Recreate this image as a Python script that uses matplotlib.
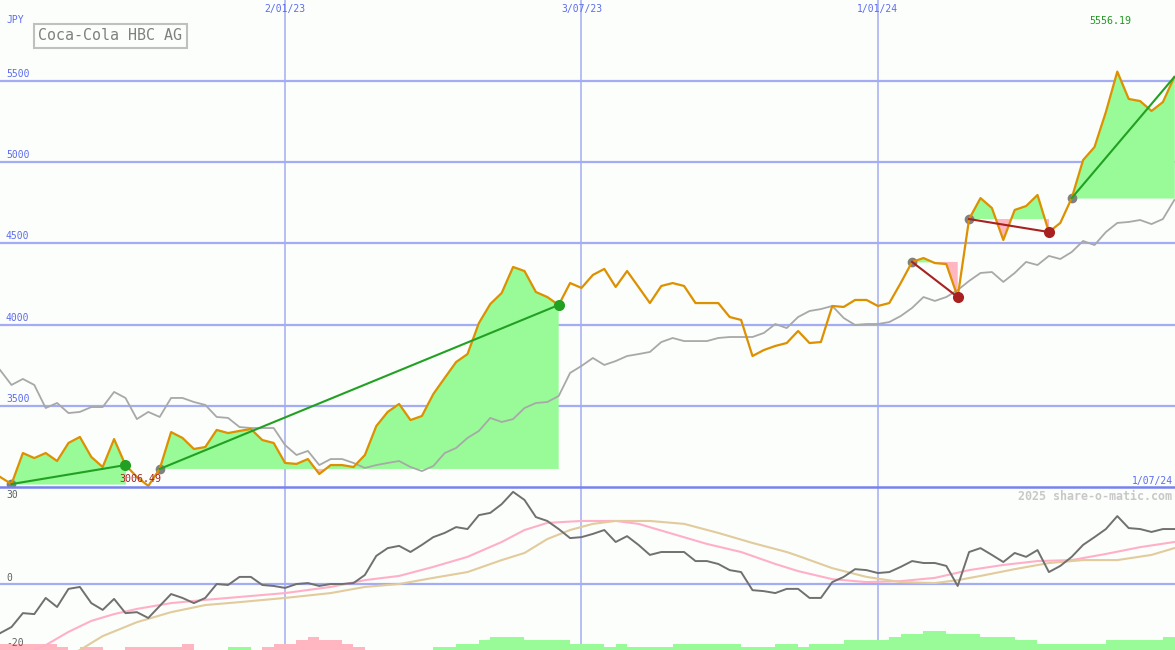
import numpy as np
import pandas as pd
import matplotlib
matplotlib.use('Agg')
import matplotlib.pyplot as plt
import matplotlib.dates as mdates
from matplotlib.lines import Line2D

# weekly closes, JPY
dates = pd.date_range('2022-07-11', periods=104, freq='7D')
price = [3062, 3018, 3209, 3178, 3209, 3160, 3271, 3308, 3185, 3123,
         3295, 3135, 3062, 3006.49, 3111, 3338, 3302, 3234, 3246, 3351,
         3332, 3345, 3357, 3289, 3271, 3148, 3142, 3172, 3080, 3135,
         3135, 3123, 3197, 3375, 3462, 3511, 3412, 3437, 3572, 3671,
         3769, 3818, 4009, 4126, 4194, 4354, 4329, 4200, 4169, 4120,
         4255, 4225, 4305, 4342, 4231, 4329, 4231, 4132, 4237, 4255,
         4237, 4132, 4132, 4132, 4046, 4028, 3806, 3843, 3868, 3886,
         3960, 3886, 3892, 4114, 4108, 4151, 4151, 4114, 4132, 4255,
         4385, 4409, 4378, 4372, 4169, 4649, 4778, 4717, 4520, 4705,
         4729, 4797, 4569, 4625, 4778, 5012, 5092, 5308, 5556.19, 5388,
         5375, 5314, 5369, 5523]
# comparison index (rescaled to price axis)
compare = [3720, 3628, 3665, 3628, 3486, 3517, 3455, 3462, 3492, 3492,
           3585, 3548, 3418, 3462, 3431, 3548, 3548, 3523, 3505, 3431,
           3425, 3369, 3363, 3363, 3363, 3258, 3197, 3222, 3135, 3172,
           3172, 3148, 3117, 3135, 3148, 3160, 3123, 3098, 3129, 3209,
           3240, 3302, 3345, 3425, 3400, 3418, 3486, 3517, 3523, 3560,
           3702, 3745, 3794, 3751, 3775, 3806, 3818, 3831, 3892, 3917,
           3898, 3898, 3898, 3917, 3923, 3923, 3923, 3948, 4003, 3978,
           4046, 4083, 4095, 4114, 4040, 3997, 4003, 4003, 4015, 4052,
           4102, 4169, 4145, 4169, 4212, 4268, 4317, 4323, 4262, 4317,
           4385, 4366, 4422, 4403, 4446, 4514, 4489, 4569, 4625, 4631,
           4643, 4618, 4649, 4766]
# trend segments: start index, end index, direction
seg_start = [1, 14, 80, 85, 94]
seg_end = [11, 49, 84, 92, 103]
seg_up = [True, True, False, False, True]
seg_closed = [True, True, True, True, False]

# lower panel
momentum = [-15.2, -13.3, -9.0, -9.3, -4.3, -7.1, -1.5, -0.9, -5.9, -8.0,
            -4.6, -9.0, -8.7, -10.5, -6.8, -3.1, -4.3, -5.9, -4.3, 0.0,
            -0.3, 2.2, 2.2, -0.3, -0.6, -1.2, 0.0, 0.3, -0.6, 0.0,
            0.0, 0.3, 2.8, 8.7, 11.1, 11.8, 9.9, 12.1, 14.5, 15.8,
            17.6, 17.0, 21.3, 22.0, 24.7, 28.5, 26.0, 20.7, 19.5, 17.0,
            14.2, 14.5, 15.5, 16.7, 13.0, 14.8, 12.1, 9.0, 9.9, 9.9,
            9.9, 7.1, 7.1, 6.2, 4.3, 3.7, -1.9, -2.2, -2.8, -1.5,
            -1.5, -4.3, -4.3, 0.6, 2.2, 4.6, 4.3, 3.4, 3.7, 5.3,
            7.1, 6.5, 6.5, 5.6, -0.6, 9.9, 11.1, 9.0, 6.8, 9.6,
            8.4, 10.5, 3.7, 5.6, 8.4, 12.1, 14.5, 17.0, 21.0, 17.3,
            17.0, 16.1, 17.0, 17.0]
fast_idx = [2, 4, 6, 8, 10, 12, 15, 18, 21, 25, 29, 32, 35, 38, 41, 44, 46, 48,
            51, 54, 56, 59, 62, 65, 68, 70, 73, 76, 79, 82, 85, 88, 91, 94, 97,
            100, 103]
fast_ma = [-22.0, -18.9, -14.8, -11.4, -9.3, -7.7, -5.9, -4.9, -4.0, -2.8, -0.9,
           1.2, 2.5, 5.3, 8.4, 13.0, 16.7, 18.9, 19.5, 19.5, 18.6, 15.5, 12.4,
           9.9, 6.2, 4.0, 1.5, 0.6, 0.9, 1.9, 4.3, 5.9, 7.1, 7.4, 9.3, 11.4, 13.0]
slow_idx = [6, 7, 9, 12, 15, 18, 21, 25, 29, 32, 35, 38, 41, 44, 46, 48, 50, 52,
            54, 57, 60, 63, 66, 69, 70, 73, 76, 79, 82, 84, 86, 89, 92, 95, 98,
            101, 103]
slow_ma = [-22.3, -20.4, -16.1, -11.8, -8.7, -6.5, -5.6, -4.3, -2.8, -0.9, 0.0,
           1.9, 3.7, 7.4, 9.6, 13.9, 16.7, 18.6, 19.5, 19.5, 18.6, 15.8, 12.7,
           9.9, 8.7, 4.9, 2.2, 0.6, 0.3, 1.2, 2.5, 4.6, 6.5, 7.4, 7.4, 9.0, 11.1]
hist = [-2, -2, -2, -2, -2, -1, 0, -1, -1, 0,
        0, -1, -1, -1, -1, -1, -2, 0, 0, 0,
        1, 1, 0, -1, -2, -2, -3, -4, -3, -3,
        -2, -1, 0, 0, 0, 0, 0, 0, 1, 1,
        2, 2, 3, 4, 4, 4, 3, 3, 3, 3,
        2, 2, 2, 1, 2, 1, 1, 1, 1, 2,
        2, 2, 2, 2, 2, 1, 1, 1, 2, 2,
        1, 2, 2, 2, 3, 3, 3, 3, 4, 5,
        5, 6, 6, 5, 5, 5, 4, 4, 4, 3,
        3, 2, 2, 2, 2, 2, 2, 3, 3, 3,
        3, 3, 4, 4]

month_lines = ['2023-01-02', '2023-07-03', '2024-01-01']
month_labels = ['2/01/23', '3/07/23', '1/01/24']
y_levels = [3500, 4000, 4500, 5000, 5500]

W, H = 1175, 650
BG = '#fbfefb'
GRID = '#a4acf4'
BLUE = '#5c6cf0'
GREEN_FILL = '#98fb98'
PINK_FILL = '#ffb6c1'
mono = 'DejaVu Sans Mono'

x = mdates.date2num(dates.to_pydatetime())
price = np.array(price, dtype=float)
x0 = x[0] - 0.05
x1 = x0 + W / 1.6286

fig = plt.figure(figsize=(W / 100, H / 100), dpi=100, facecolor=BG)
ax = fig.add_axes([0, 163 / H, 1, 487 / H], facecolor=BG)
ax2 = fig.add_axes([0, 0, 1, 163 / H], facecolor=BG)
for a in (ax, ax2):
    a.set_xlim(x0, x1)
    a.set_xticks([])
    a.set_yticks([])
    for s in a.spines.values():
        s.set_visible(False)
ax.set_ylim(3000, 3000 + 487 / 0.1625)
ax2.set_ylim(-20.4, 30)

# grid
for lv in y_levels:
    ax.axhline(lv, color=GRID, lw=1.6, zorder=1)
    ax.text(6 / W, lv + 12, str(lv), transform=ax.get_yaxis_transform(),
            color=BLUE, fontsize=7, family=mono, va='bottom', ha='left')
for d, lab in zip(month_lines, month_labels):
    xd = mdates.date2num(pd.Timestamp(d).to_pydatetime())
    ax.axvline(xd, color=GRID, lw=1.1, zorder=1)
    ax2.axvline(xd, color=GRID, lw=1.1, zorder=1)
    ax.text(xd, 1 - 9 / 487, lab, transform=ax.get_xaxis_transform(),
            color=BLUE, fontsize=7, family=mono, ha='center', va='center')
ax2.axhline(0, color=GRID, lw=1.6, zorder=1)
fig.add_artist(Line2D([0, 1], [163 / H, 163 / H], transform=fig.transFigure,
                      color='#7882ee', lw=1.8, zorder=10))

# trend fills and lines
for s, e, up, closed in zip(seg_start, seg_end, seg_up, seg_closed):
    xs = x[s:e + 1]
    ys = price[s:e + 1]
    base = price[s]
    ax.fill_between(xs, base, ys, where=ys >= base, interpolate=True,
                    color=GREEN_FILL, lw=0, zorder=2)
    ax.fill_between(xs, base, ys, where=ys <= base, interpolate=True,
                    color=PINK_FILL, lw=0, zorder=2)
    lc = '#22a022' if up else '#a82020'
    ax.plot([x[s], x[e]], [price[s], price[e]], color=lc, lw=1.5, zorder=6)
    ax.plot(x[s], price[s], 'o', color='#808080', ms=7, mew=0, zorder=4,
            clip_on=False)
    if closed:
        ax.plot(x[e], price[e], 'o', color=lc, ms=8, mew=0, zorder=7)

ax.plot(x, compare, color='#a8a8a8', lw=1.3, zorder=3)
ax.plot(x, price, color='#dd9000', lw=1.6, zorder=5)

# lower panel
hist = np.array(hist)
cols = ['#98fb98' if h > 0 else '#ffb6c1' for h in hist]
ax2.bar(x, np.abs(hist), width=7, bottom=-20.4, align='edge', color=cols,
        lw=0, zorder=2)
ax2.plot(x[fast_idx], fast_ma, color='#ffb0c8', lw=1.5, zorder=3)
ax2.plot(x[slow_idx], slow_ma, color='#e2cb9c', lw=1.5, zorder=3)
ax2.plot(x, momentum, color='#707070', lw=1.4, zorder=4)


def px(xp, yp):
    return xp / W, 1 - yp / H


fig.text(*px(6, 20), 'JPY', color=BLUE, fontsize=7, family=mono, va='center')
fig.text(*px(38, 36), 'Coca-Cola HBC AG', color='#808080', fontsize=10.8,
         family=mono, va='center', ha='left',
         bbox=dict(boxstyle='square,pad=0.3', fc=BG, ec='#c0c0c0', lw=1.5))
fig.text(*px(1110, 21), '5556.19', color='#229922', fontsize=7.2, family=mono,
         ha='center', va='center')
fig.text(*px(140, 479), '3006.49', color='#aa2222', fontsize=7.2, family=mono,
         ha='center', va='center', zorder=12)
fig.text(*px(1173, 481), '1/07/24', color=BLUE, fontsize=7, family=mono,
         ha='right', va='center')
fig.text(*px(1172, 496), '2025 share-o-matic.com', color='#c8c8c8', fontsize=8.4,
         family=mono, weight='bold', ha='right', va='center')
fig.text(*px(6, 495), '30', color='#606060', fontsize=7, family=mono, va='center')
fig.text(*px(6, 578), '0', color='#606060', fontsize=7, family=mono, va='center')
fig.text(*px(6, 643), '-20', color='#606060', fontsize=7, family=mono, va='center')

fig.savefig('out.png', dpi=100, facecolor=BG)
